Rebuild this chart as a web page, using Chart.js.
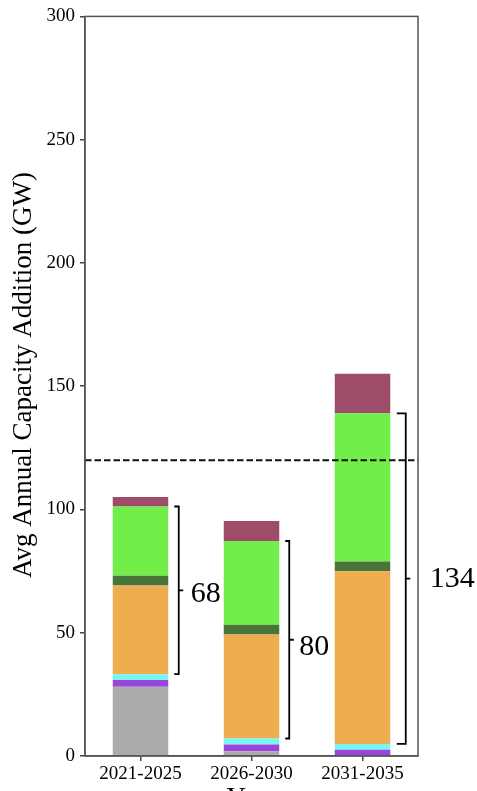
<!DOCTYPE html>
<html>
<head>
<meta charset="utf-8">
<script src="https://cdn.jsdelivr.net/npm/chart.js@4/dist/chart.umd.min.js"></script>
<style>
  body { margin: 0; background: #fff; }
  canvas { display: block; }
</style>
</head>
<body>
<canvas id="cap" width="477" height="791"></canvas>
<script>
// avg annual capacity additions (GW) per period, stacked bottom -> top
var periods = ['2021-2025', '2026-2030', '2031-2035'];
var gas      = [28.1, 1.9, 0];
var storage  = [2.7, 2.8, 2.5];
var otherRE  = [2.4, 2.4, 2.4];
var solar    = [36.0, 42.2, 70.0];
var offshore = [3.9, 3.9, 4.0];
var onshore  = [28.1, 34.0, 60.1];
var other    = [3.9, 8.1, 16.1];
var bracketLabels = ['68', '80', '134'];
var targetLine = 120;
var yTicks = [0, 50, 100, 150, 200, 250, 300];

var serif = '"Liberation Serif", "DejaVu Serif", serif';

// brackets round solar + wind, plus the dashed target line and titles
var annot = {
  id: 'annot',
  afterDatasetsDraw: function(chart) {
    var ctx = chart.ctx, y = chart.scales.y, ca = chart.chartArea;
    var meta = chart.getDatasetMeta(0);
    var gap = [10.5, 10, 15.5], endTick = [4.5, 4, 9], labGap = [12, 10, 24], labDy = [4, 7, 1];
    ctx.save();

    // dashed line
    ctx.strokeStyle = '#111';
    ctx.lineWidth = 2;
    ctx.setLineDash([6.5, 3]);
    var yy = y.getPixelForValue(targetLine);
    ctx.beginPath();
    ctx.moveTo(ca.left, yy);
    ctx.lineTo(ca.right, yy);
    ctx.stroke();
    ctx.setLineDash([]);

    for (var i = 0; i < periods.length; i++) {
      var bar = meta.data[i];
      var lo = gas[i] + storage[i] + otherRE[i];
      var hi = lo + solar[i] + offshore[i] + onshore[i];
      var y0 = y.getPixelForValue(lo), y1 = y.getPixelForValue(hi);
      var x = bar.x + bar.width / 2 + gap[i];
      var mid = (y0 + y1) / 2;
      ctx.strokeStyle = '#000';
      ctx.lineWidth = 1.8;
      ctx.beginPath();
      ctx.moveTo(x - endTick[i], y1);
      ctx.lineTo(x, y1);
      ctx.lineTo(x, y0);
      ctx.lineTo(x - endTick[i], y0);
      ctx.moveTo(x, mid);
      ctx.lineTo(x + 4.5, mid);
      ctx.stroke();
      ctx.fillStyle = '#000';
      ctx.font = '30px ' + serif;
      ctx.textAlign = 'left';
      ctx.textBaseline = 'middle';
      ctx.fillText(bracketLabels[i], x + labGap[i], mid + labDy[i]);
    }

    // frame (top/right spines)
    ctx.strokeStyle = '#555';
    ctx.lineWidth = 1.5;
    ctx.strokeRect(ca.left, ca.top, ca.right - ca.left, ca.bottom - ca.top);

    // axis titles
    ctx.fillStyle = '#000';
    ctx.font = '27px ' + serif;
    ctx.textAlign = 'center';
    ctx.textBaseline = 'middle';
    ctx.save();
    ctx.translate(24, 375);
    ctx.rotate(-Math.PI / 2);
    ctx.fillText('Avg Annual Capacity Addition (GW)', 0, 0);
    ctx.restore();
    ctx.textBaseline = 'alphabetic';
    ctx.fillText('Year', (ca.left + ca.right) / 2, 806);
    ctx.restore();
  }
};

function ds(label, data, color) {
  return { label: label, data: data, backgroundColor: color, borderWidth: 0,
           barPercentage: 0.5, categoryPercentage: 1.0 };
}

new Chart(document.getElementById('cap'), {
  type: 'bar',
  data: {
    labels: periods,
    datasets: [
      ds('Natural gas', gas, '#ababab'),
      ds('Storage', storage, '#9a44de'),
      ds('Other RE', otherRE, '#74f7ef'),
      ds('Solar', solar, '#eead4e'),
      ds('Offshore wind', offshore, '#47753a'),
      ds('Onshore wind', onshore, '#72ee4a'),
      ds('Other', other, '#9f4b6a')
    ]
  },
  options: {
    responsive: false,
    animation: false,
    layout: { padding: { top: 13, right: 59, left: 0, bottom: 0 } },
    plugins: { legend: { display: false }, tooltip: { enabled: false } },
    scales: {
      x: {
        stacked: true,
        afterFit: function(s) { s.height = 35; },
        grid: { display: true, drawOnChartArea: false, offset: false, tickLength: 5, color: '#444', lineWidth: 1.5 },
        border: { color: '#555', width: 1.5 },
        ticks: { color: '#000', padding: 2, font: { family: serif, size: 19 } }
      },
      y: {
        stacked: true,
        min: 0, max: 300,
        afterFit: function(s) { s.width = 85; },
        afterBuildTicks: function(s) { s.ticks = yTicks.map(function(v) { return { value: v }; }); },
        grid: { drawOnChartArea: false, tickLength: 5, color: '#444', lineWidth: 1.5 },
        border: { color: '#555', width: 1.5 },
        ticks: { color: '#000', padding: 5, font: { family: serif, size: 19 } }
      }
    }
  },
  plugins: [annot]
});
</script>
</body>
</html>
